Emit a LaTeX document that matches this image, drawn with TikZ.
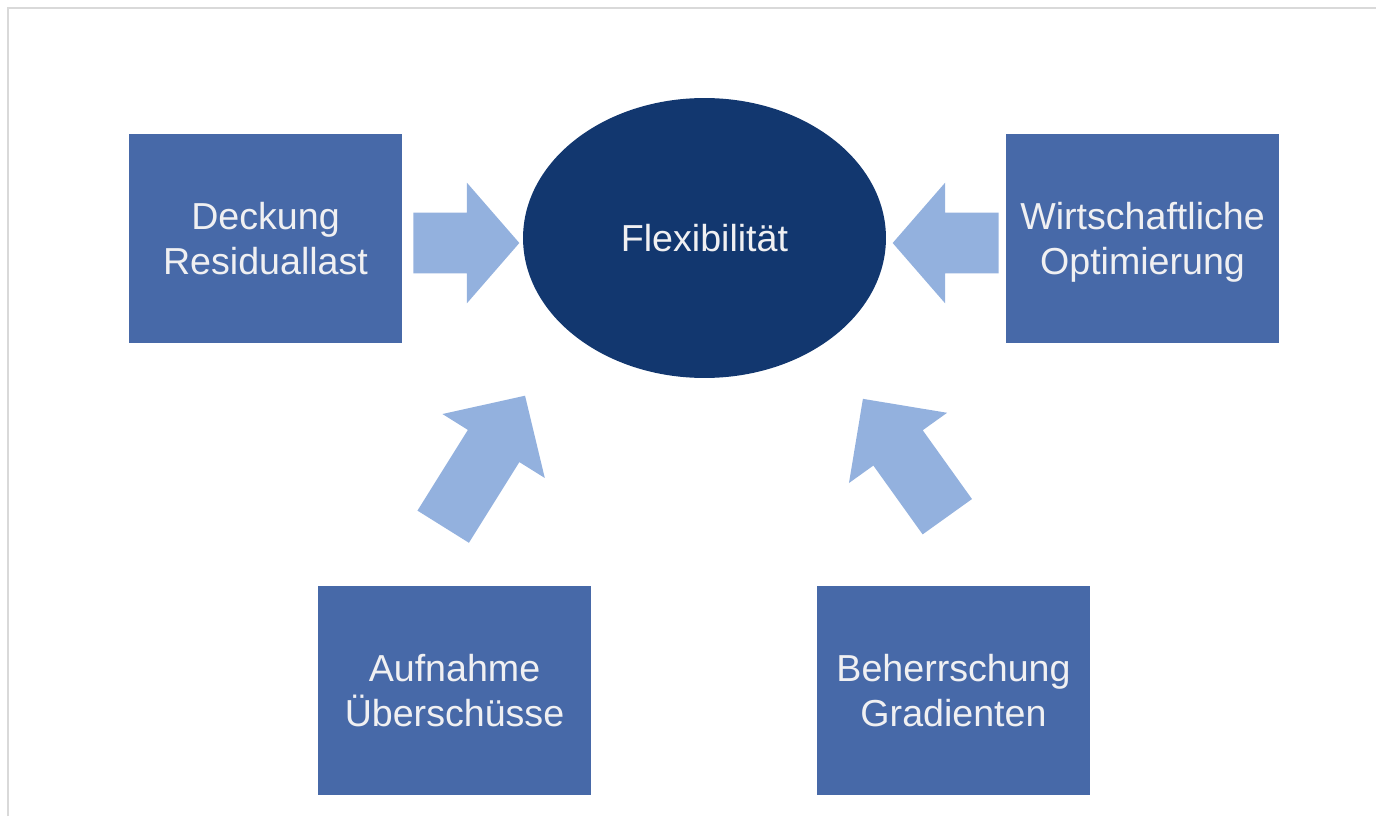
\documentclass[tikz,border=0pt]{standalone}
\usepackage{fontspec}
\setmainfont{Liberation Sans}
\usetikzlibrary{shapes.geometric,shapes.arrows}

\definecolor{boxblue}{HTML}{4769A8}
\definecolor{darkblue}{HTML}{12376F}
\definecolor{lightblue}{HTML}{93B1DE}
\definecolor{paleText}{HTML}{F0F0F2}

\begin{document}
\begin{tikzpicture}[x=0.02cm, y=0.02cm,
    label font/.style={text=paleText, font=\fontsize{21.4}{25.6}\selectfont},
    task/.style={rectangle, fill=boxblue, minimum width=5.46cm, minimum height=4.18cm, align=center, text depth=0pt, label font},
    flow/.style={single arrow, fill=lightblue, inner xsep=0pt, inner ysep=0.6cm, minimum width=2.4cm, single arrow head extend=0.6cm, anchor=tail}]
    \useasboundingbox (0, 0) rectangle (1376, 816);
    \draw[black!15, line width=1.1pt] (8, 0) -- (8, 808) -- (1376, 808);

    \node[ellipse, fill=darkblue, minimum width=7.26cm, minimum height=5.6cm, label font] (flex) at (704.5, 578) {Flexibilität};

    \node[task] (deckung) at (265.5, 577.5) {Deckung\\Residuallast};
    \node[task] (optimierung) at (1142.5, 577.5) {Wirtschaftliche\\Optimierung};
    \node[task] (aufnahme) at (454.5, 125.5) {Aufnahme\\Überschüsse};
    \node[task] (gradienten) at (953.5, 125.5) {Beherrschung\\Gradienten};

    \node[flow, minimum height=2.12cm, single arrow tip angle=98] (toFlexL) at (413, 573) {};
    \node[flow, minimum height=2.12cm, single arrow tip angle=98, rotate=180] (toFlexR) at (999, 573) {};
    \node[flow, minimum height=3.09cm, single arrow tip angle=91, rotate=58] (toFlexBL) at (443, 289) {};
    \node[flow, minimum height=2.9cm, single arrow tip angle=90, rotate=125.6] (toFlexBR) at (947.5, 299) {};
\end{tikzpicture}
\end{document}
